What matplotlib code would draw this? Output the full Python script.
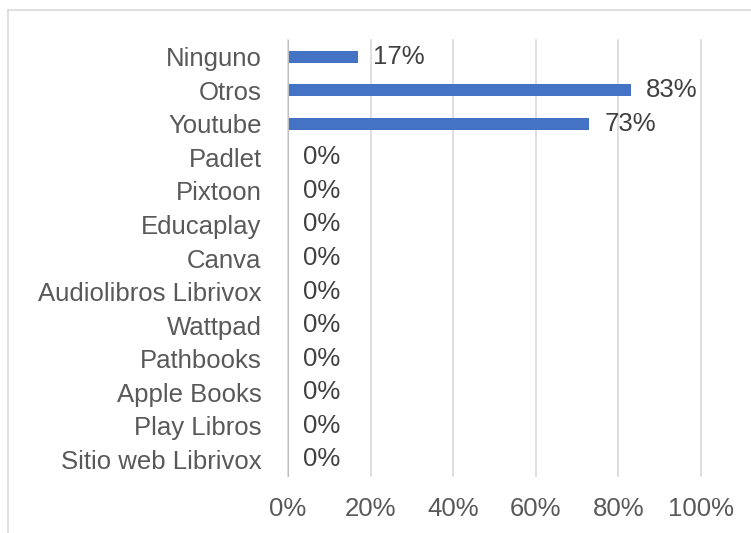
import matplotlib
matplotlib.use("Agg")
import matplotlib.pyplot as plt
from matplotlib.lines import Line2D
from matplotlib.ticker import FuncFormatter

plt.rcParams['font.family'] = ['Liberation Sans', 'DejaVu Sans']

categories = ["Ninguno", "Otros", "Youtube", "Padlet", "Pixtoon", "Educaplay",
              "Canva", "Audiolibros Librivox", "Wattpad", "Pathbooks",
              "Apple Books", "Play Libros", "Sitio web Librivox"]
values = [17, 83, 73, 0, 0, 0, 0, 0, 0, 0, 0, 0, 0]

W, H = 751, 533
fs = 18.5
fig = plt.figure(figsize=(W / 100, H / 100), dpi=100)
ax = fig.add_axes([288 / W, 1 - 476 / H, (701 - 288) / W, (476 - 40) / H])

pos = list(range(len(categories)))
ax.barh(pos, values, height=0.36, color='#4472C4')
ax.set_ylim(len(categories) - 0.5, -0.5)
ax.set_xlim(0, 100)
ax.set_yticks(pos)
ax.set_yticklabels(categories)
ax.set_xticks([0, 20, 40, 60, 80, 100])
ax.xaxis.set_major_formatter(FuncFormatter(lambda v, p: "%d%%" % v))

for p, v in zip(pos, values):
    ax.annotate("%d%%" % v, (v, p), xytext=(11, 0), textcoords='offset points',
                va='center', ha='left', fontsize=fs, color='#404040')

ax.grid(axis='x', color='#d9d9d9', linewidth=1.2)
for gl in ax.get_xgridlines():
    gl.set_clip_on(False)
ax.set_axisbelow(True)
for s in ['top', 'right', 'bottom']:
    ax.spines[s].set_visible(False)
ax.spines['left'].set_color('#bfbfbf')
ax.tick_params(axis='both', length=0, labelsize=fs, colors='#595959')
ax.tick_params(axis='y', pad=19)
ax.tick_params(axis='x', pad=15)

# chart border (only top and left visible in the crop)
fig.add_artist(Line2D([8 / W, 1], [1 - 10 / H, 1 - 10 / H], color='#d9d9d9', linewidth=1.2))
fig.add_artist(Line2D([8 / W, 8 / W], [0, 1 - 10 / H], color='#d9d9d9', linewidth=1.2))

fig.savefig("out.png", dpi=100)
